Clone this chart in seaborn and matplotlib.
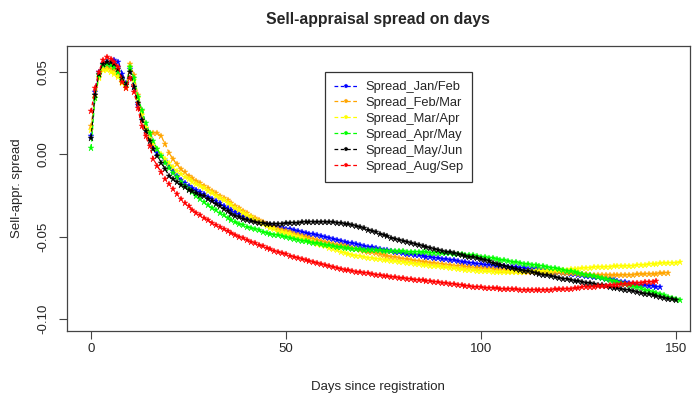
import numpy as np
import pandas as pd
import seaborn as sns
import matplotlib.pyplot as plt

# Spread values in thousandths, one value per day since registration (day 0, 1, 2, ...)
jan_feb = [
    11, 38, 50, 55, 56, 55, 57, 56, 49, 43,
    52, 41, 30, 22, 15, 10, 5, 1, -1, -4,
    -7, -10, -13, -15.5, -17.5, -19, -20.5, -21.8, -23, -24.3,
    -25.6, -27, -28.4, -29.8, -31.2, -32.6, -34, -35.2, -36.3, -37.3,
    -38.2, -39.1, -40, -40.8, -41.6, -42.3, -43, -43.6, -44.1, -44.6,
    -45.1, -45.6, -46.1, -46.6, -47.1, -47.6, -48.1, -48.6, -49.1, -49.6,
    -50.1, -50.6, -51.1, -51.7, -52.3, -52.9, -53.5, -54, -54.5, -55,
    -55.5, -56, -56.5, -57, -57.5, -57.9, -58.3, -58.7, -59.1, -59.5,
    -59.9, -60.3, -60.6, -61, -61.3, -61.7, -62, -62.3, -62.7, -63,
    -63.3, -63.7, -64, -64.4, -64.7, -65.1, -65.4, -65.8, -66.1, -66.5,
    -66.7, -66.9, -67.1, -67.3, -67.5, -67.7, -67.9, -68.1, -68.3, -68.5,
    -68.8, -69, -69.3, -69.6, -69.8, -70.1, -70.4, -70.6, -70.9, -71.2,
    -71.5, -71.8, -72.1, -72.4, -72.7, -73, -73.3, -73.6, -73.9, -74.2,
    -74.5, -75, -75.4, -75.9, -76.3, -76.8, -77.2, -77.7, -78.1, -78.6,
    -79, -79.2, -79.5, -79.7, -80, -80.2, -80.5,
]
feb_mar = [
    17, 36, 47, 52, 53, 52, 51, 48, 44, 40,
    55, 48, 36, 26, 16, 13, 13, 13, 11, 6,
    1, -3, -6, -9, -11, -13, -14.5, -16, -17.5, -19,
    -20.5, -22, -23.5, -25, -26.5, -28, -29.7, -31.3, -32.8, -34.3,
    -35.8, -37.2, -38.5, -39.8, -41, -42.2, -43.3, -44.3, -45.2, -46,
    -46.7, -47.4, -48.1, -48.8, -49.5, -50.2, -50.9, -51.5, -52, -52.6,
    -53.1, -53.7, -54.2, -54.8, -55.3, -55.9, -56.4, -57, -57.5, -58,
    -58.5, -59, -59.5, -60, -60.5, -61, -61.5, -62, -62.5, -62.9,
    -63.3, -63.7, -64.1, -64.5, -64.9, -65.2, -65.5, -65.8, -66.1, -66.5,
    -66.7, -67, -67.2, -67.5, -67.7, -68, -68.2, -68.5, -68.7, -69,
    -69.2, -69.4, -69.6, -69.8, -70, -70.2, -70.4, -70.6, -70.8, -71,
    -71.1, -71.1, -71.2, -71.2, -71.3, -71.3, -71.4, -71.4, -71.5, -71.5,
    -71.5, -71.7, -71.9, -72.1, -72.3, -72.5, -72.7, -72.9, -73, -73.1,
    -73.2, -73.3, -73.4, -73.4, -73.4, -73.3, -73.3, -73.2, -73.1, -73,
    -72.9, -72.8, -72.7, -72.6, -72.5, -72.4, -72.3, -72.2, -72,
]
mar_apr = [
    15, 34, 46, 51, 51, 50, 49, 47, 43, 41,
    53, 45, 34, 24, 16, 10, 6, 3, 0, -3,
    -5.5, -8, -10, -12, -13.5, -15, -16.5, -18, -19.3, -20.6,
    -22, -23.5, -25, -26.5, -28, -29.5, -31, -32.5, -34, -35.5,
    -37, -38.3, -39.6, -40.9, -42.1, -43.3, -44.4, -45.4, -46.3, -47.1,
    -47.8, -48.6, -49.4, -50.2, -51, -51.8, -52.6, -53.4, -54.2, -55,
    -55.8, -56.6, -57.4, -58.2, -59, -59.7, -60.3, -60.9, -61.4, -61.9,
    -62.3, -62.7, -63.1, -63.4, -63.7, -64, -64.3, -64.6, -64.9, -65.2,
    -65.5, -65.8, -66.1, -66.4, -66.7, -67, -67.2, -67.5, -67.7, -68,
    -68.3, -68.6, -68.9, -69.2, -69.5, -69.8, -70, -70.2, -70.4, -70.6,
    -70.8, -70.9, -71, -71.1, -71.1, -71.2, -71.2, -71.2, -71.2, -71.2,
    -71.1, -71.1, -71, -71, -70.9, -70.8, -70.7, -70.6, -70.5, -70.4,
    -70.3, -70.1, -69.9, -69.7, -69.5, -69.3, -69.1, -68.9, -68.7, -68.5,
    -68.4, -68.3, -68.2, -68.1, -68, -67.9, -67.8, -67.7, -67.6, -67.5,
    -67.4, -67.2, -67, -66.8, -66.6, -66.4, -66.2, -66, -65.9, -65.8,
    -65.7, -65.5,
]
apr_may = [
    4, 34, 48, 54, 55, 54, 53, 50, 45, 42,
    53, 46, 35, 27, 19, 13, 8, 3, -1, -5,
    -8.5, -11.5, -14, -16.5, -19, -21, -23, -25, -27, -29,
    -31, -32.5, -34, -35.5, -37, -38.5, -39.8, -41, -42, -43,
    -43.9, -44.7, -45.5, -46.2, -46.9, -47.5, -48.1, -48.7, -49.2, -49.8,
    -50.3, -50.8, -51.3, -51.8, -52.3, -52.8, -53.3, -53.7, -54.1, -54.5,
    -54.9, -55.3, -55.7, -56, -56.3, -56.6, -56.9, -57.2, -57.4, -57.6,
    -57.8, -58, -58.1, -58.2, -58.3, -58.4, -58.5, -58.6, -58.7, -58.8,
    -58.9, -59, -59.1, -59.2, -59.3, -59.4, -59.5, -59.6, -59.7, -59.8,
    -59.9, -60, -60.1, -60.3, -60.5, -60.7, -60.9, -61.1, -61.3, -61.6,
    -62, -62.4, -62.8, -63.2, -63.6, -64, -64.4, -64.8, -65.2, -65.6,
    -66, -66.3, -66.7, -67, -67.4, -67.7, -68, -68.4, -68.7, -69.1,
    -69.5, -70, -70.5, -71, -71.5, -72, -72.5, -73, -73.5, -74,
    -74.5, -75.1, -75.7, -76.3, -76.9, -77.5, -78.1, -78.7, -79.3, -80,
    -80.7, -81.4, -82.1, -82.8, -83.5, -84.2, -84.9, -85.6, -86.3, -87,
    -87.8, -88.6,
]
may_jun = [
    10, 36, 49, 55, 56, 56, 55, 52, 46, 42,
    50, 41, 31, 21, 14, 8, 3, -1, -5, -9,
    -13, -15, -17, -18.5, -20, -21.5, -22.5, -23.5, -24.5, -25.5,
    -27, -28.5, -30, -31.5, -33, -34.5, -36, -37.2, -38.3, -39.2,
    -40, -40.6, -41.1, -41.5, -41.8, -42, -42.1, -42.1, -42.1, -42,
    -41.9, -41.8, -41.6, -41.5, -41.3, -41.2, -41.1, -41, -41, -41,
    -41, -41.1, -41.2, -41.4, -41.6, -42, -42.5, -43, -43.6, -44.3,
    -45, -45.7, -46.5, -47.3, -48.1, -48.9, -49.7, -50.5, -51.2, -51.9,
    -52.5, -53.1, -53.7, -54.3, -54.9, -55.5, -56.1, -56.7, -57.3, -57.9,
    -58.5, -59, -59.5, -60, -60.5, -61, -61.5, -62, -62.5, -63,
    -63.7, -64.3, -65, -65.7, -66.3, -67, -67.7, -68.3, -69, -69.5,
    -70, -70.5, -71, -71.5, -72, -72.5, -73, -73.5, -74, -74.5,
    -75, -75.4, -75.8, -76.2, -76.6, -77, -77.4, -77.8, -78.2, -78.6,
    -79, -79.4, -79.9, -80.3, -80.8, -81.2, -81.7, -82.1, -82.6, -83,
    -83.5, -84, -84.5, -85, -85.5, -86, -86.5, -87, -87.5, -88,
    -88.5,
]
aug_sep = [
    26, 40, 50, 57, 59, 58, 56, 53, 44, 40,
    46, 38, 28, 17, 11, 5, -3, -7, -11, -15,
    -18, -21, -24, -27, -29.5, -31.5, -33.5, -35.5, -37, -38.5,
    -40, -41.5, -43, -44.2, -45.4, -46.6, -47.7, -48.8, -49.9, -51,
    -52, -53, -54, -55, -55.9, -56.8, -57.7, -58.6, -59.3, -60,
    -60.7, -61.4, -62.1, -62.8, -63.5, -64.2, -64.9, -65.5, -66.1, -66.7,
    -67.3, -67.8, -68.4, -68.9, -69.4, -69.9, -70.4, -70.9, -71.3, -71.6,
    -72, -72.3, -72.6, -73, -73.3, -73.6, -74, -74.3, -74.6, -74.9,
    -75.2, -75.4, -75.7, -76, -76.2, -76.5, -76.8, -77, -77.3, -77.5,
    -77.8, -78.1, -78.4, -78.7, -79, -79.3, -79.6, -79.9, -80.2, -80.5,
    -80.7, -80.9, -81, -81.2, -81.4, -81.5, -81.7, -81.8, -82, -82,
    -82.1, -82.1, -82.2, -82.2, -82.2, -82.2, -82.2, -82.1, -82.1, -82,
    -82, -81.9, -81.7, -81.5, -81.2, -81, -80.7, -80.5, -80.3, -80.2,
    -80, -79.8, -79.6, -79.4, -79.2, -79, -78.8, -78.6, -78.4, -78.2,
    -78, -77.8, -77.6, -77.4, -77.2, -77,
]

series_names = ["Spread_Jan/Feb", "Spread_Feb/Mar", "Spread_Mar/Apr",
                "Spread_Apr/May", "Spread_May/Jun", "Spread_Aug/Sep"]
series_values = [jan_feb, feb_mar, mar_apr, apr_may, may_jun, aug_sep]
colors = ["blue", "orange", "yellow", "#00ff00", "black", "red"]

x_ticks = [0, 50, 100, 150]
y_ticks = [-0.10, -0.05, 0.00, 0.05]

# Build a long table for seaborn
frames = []
for name, vals in zip(series_names, series_values):
    frames.append(pd.DataFrame({
        "day": np.arange(len(vals)),
        "spread": np.array(vals) / 1000.0,
        "series": name,
    }))
df = pd.concat(frames, ignore_index=True)

sns.set_style("white")
plt.rcParams["font.family"] = ["Liberation Sans", "DejaVu Sans"]

fig, ax = plt.subplots(figsize=(6.96, 3.93), dpi=100)
fig.subplots_adjust(left=66.7 / 696, right=690 / 696, top=1 - 46 / 393, bottom=1 - 330.7 / 393)

for name, color in zip(series_names, colors):
    sns.lineplot(
        data=df[df["series"] == name], x="day", y="spread", ax=ax,
        color=color, linestyle=(0, (3, 2)), linewidth=0.9,
        marker="*", markersize=4.5, markeredgewidth=0.3, markeredgecolor=color,
        label=name,
    )

ax.set_xlim(-6.25, 153.6)
ax.set_ylim(-0.107, 0.0657)
ax.set_xticks(x_ticks)
ax.set_xticklabels([str(t) for t in x_ticks])
ax.set_yticks(y_ticks)
ax.set_yticklabels([f"{t:.2f}" for t in y_ticks], rotation=90, va="center")

for side in ["left", "right", "top", "bottom"]:
    ax.spines[side].set_visible(True)
    ax.spines[side].set_color("#444444")
    ax.spines[side].set_linewidth(0.9)
ax.tick_params(axis="both", direction="out", length=5.5, width=0.8, color="#444444",
               labelsize=9.5, left=True, bottom=True)
ax.tick_params(axis="x", pad=3)
ax.tick_params(axis="y", pad=7)

ax.set_title("Sell-appraisal spread on days", fontsize=11.4, fontweight="bold", pad=16)
ax.set_xlabel("Days since registration", fontsize=9.5, labelpad=19)
ax.set_ylabel("Sell-appr. spread", fontsize=9.5, labelpad=10.5)

leg = ax.legend(loc="upper left", bbox_to_anchor=(0.4144, 0.9087), borderaxespad=0,
                fontsize=9.3, frameon=True, fancybox=False, framealpha=1,
                edgecolor="#333333", handlelength=1.9, handletextpad=0.5,
                borderpad=0.7, labelspacing=0.3, markerscale=0.8)
leg.get_frame().set_linewidth(0.9)

plt.savefig("out.png", dpi=100)
plt.close()
